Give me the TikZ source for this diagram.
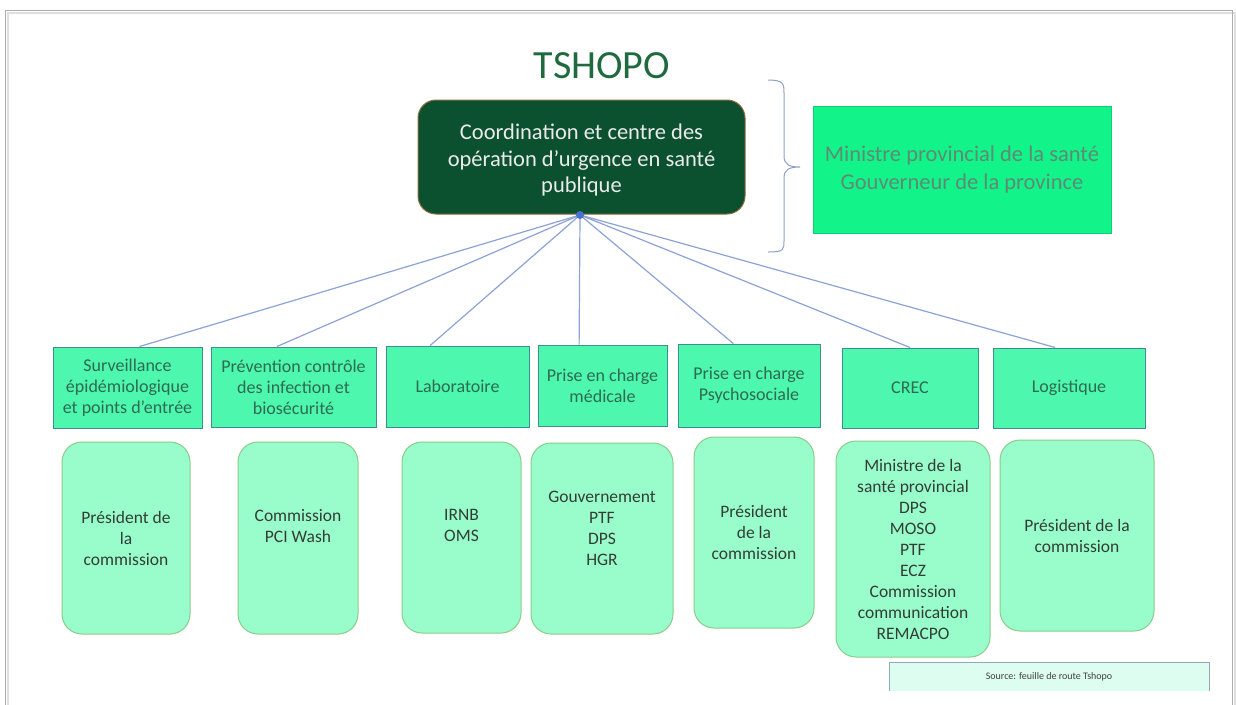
\documentclass[tikz,border=0pt]{standalone}
\usepackage{fontspec}
\setmainfont{Carlito}
\usetikzlibrary{calc}
\definecolor{mainfill}{HTML}{0B5130}
\definecolor{mainborder}{HTML}{8A6A3A}
\definecolor{titlecol}{HTML}{1F6B3F}
\definecolor{rightfill}{HTML}{12F48A}
\definecolor{righttext}{HTML}{5F8A74}
\definecolor{lvtwofill}{HTML}{4DF7AE}
\definecolor{lvtwoborder}{HTML}{3F8F8F}
\definecolor{lvtwotext}{HTML}{2E6B50}
\definecolor{lvthreefill}{HTML}{98FDCB}
\definecolor{lvthreeborder}{HTML}{8ACC8A}
\definecolor{lvthreetext}{HTML}{333D36}
\definecolor{conncol}{HTML}{8DA3D6}
\definecolor{hubcol}{HTML}{4A70D0}
\definecolor{srcfill}{HTML}{DDFDF1}
\definecolor{srcborder}{HTML}{90A8B8}
\definecolor{bracecol}{HTML}{8EA0C8}
\tikzset{
  mainbox/.style={draw=mainborder, line width=1pt, fill=mainfill, rounded corners=18pt,
    inner sep=0pt},
  maintextstyle/.style={text=white!92!black, align=center, inner sep=0pt,
    font=\fontsize{22.5}{26.5}\selectfont},
  rightbox/.style={fill=rightfill, draw=rightfill!85!black, line width=0.5pt, text=righttext, align=center,
    inner sep=0pt, font=\fontsize{22.5}{28}\selectfont},
  lvtwo/.style={draw=lvtwoborder, line width=1pt, fill=lvtwofill, text=lvtwotext, align=center,
    inner sep=0pt, font=\fontsize{18}{21}\selectfont},
  lvthree/.style={draw=lvthreeborder, line width=1pt, fill=lvthreefill, text=lvthreetext, align=center,
    rounded corners=20pt, inner sep=0pt, font=\fontsize{17.5}{21}\selectfont},
  conn/.style={draw=conncol, line width=1.2pt},
}
\begin{document}
\begin{tikzpicture}[x=1pt,y=-1pt]
\useasboundingbox (0,0) rectangle (1236,704);
\fill[white] (0,0) rectangle (1236,704);
% page frame with shadow
\draw[gray!25, line width=2pt] (8,710) -- (8,13) -- (1235,13) -- (1235,710);
\draw[gray!65, line width=1pt] (5,710) -- (5,10) -- (1232,10) -- (1232,710);

% title
\node[text=titlecol, font=\fontsize{40}{44}\selectfont] (title) at (602,66) {TSHOPO};

% main box
\node[mainbox, minimum width=327pt, minimum height=114pt] (main) at (581.5,157) {};
\node[maintextstyle] (maintext) at (581.5,160)
  {Coordination et centre des\\opération d’urgence en santé\\publique};

% brace
\draw[bracecol, line width=1pt] (768,80) .. controls (784,80) and (784,84) .. (784,94)
  -- (784,156) .. controls (784,165) and (790,167) .. (800,167)
  .. controls (790,167) and (784,169) .. (784,178)
  -- (784,240) .. controls (784,250) and (784,252) .. (768,252);

% right box
\node[rightbox, minimum width=298pt, minimum height=127pt] (right) at (962,169.5)
  {Ministre provincial de la santé\\Gouverneur de la province};

% level 2 boxes
\node[lvtwo, minimum width=149pt, minimum height=81pt] (s1) at (127.5,387.5)
  {Surveillance\\épidémiologique\\et points d’entrée};
\node[lvtwo, minimum width=165pt, minimum height=80pt] (s2) at (293.5,387)
  {Prévention contrôle\\des infection et\\biosécurité};
\node[lvtwo, minimum width=143pt, minimum height=81pt] (s3) at (457.5,386.5)
  {Laboratoire};
\node[lvtwo, minimum width=129pt, minimum height=81pt] (s4) at (602.5,385.5)
  {Prise en charge\\médicale};
\node[lvtwo, minimum width=142pt, minimum height=83pt] (s5) at (749,385.5)
  {Prise en charge\\Psychosociale};
\node[lvtwo, minimum width=136pt, minimum height=80pt] (s6) at (910,388)
  {CREC};
\node[lvtwo, minimum width=152pt, minimum height=80pt] (s7) at (1069,388)
  {Logistique};

% hub and connectors
\coordinate (hub) at (580,215);
\foreach \n/\f in {s1/0.58, s2/0.40, s3/0.31, s4/0.32, s5/0.39, s6/0.50, s7/0.41}{
  \draw[conn] (hub) -- ($(\n.north west)!\f!(\n.north east)$);
}
\fill[hubcol] (hub) circle (4pt);

% level 3 boxes
\node[lvthree, minimum width=128pt, minimum height=192pt] (t1) at (126,538)
  {Président de\\la\\commission};
\node[lvthree, minimum width=120pt, minimum height=192pt] (t2) at (298,538)
  {Commission\\PCI Wash\\[3pt]};
\node[lvthree, minimum width=119pt, minimum height=191pt] (t3) at (461.5,537.5)
  {IRNB\\OMS\\[3pt]};
\node[lvthree, minimum width=142pt, minimum height=191pt] (t4) at (602,538.5)
  {Gouvernement\\PTF\\DPS\\HGR\\[-1pt]};
\node[lvthree, minimum width=120pt, minimum height=191pt] (t5) at (754,532.5)
  {Président\\de la\\commission};
\node[lvthree, minimum width=154pt, minimum height=216pt] (t6) at (913,549)
  {Ministre de la\\santé provincial\\DPS\\MOSO\\PTF\\ECZ\\Commission\\communication\\REMACPO};
\node[lvthree, minimum width=154pt, minimum height=191pt] (t7) at (1077,535.5)
  {Président de la\\commission};

% source box
\fill[srcfill] (889,662) rectangle (1209,691);
\draw[srcborder, line width=1pt] (889,691) -- (889,662) -- (1209,662) -- (1209,691);
\node[text=black!75, font=\fontsize{10}{12}\selectfont] (src) at (1049,677) {Source: feuille de route Tshopo};
\end{tikzpicture}
\end{document}
